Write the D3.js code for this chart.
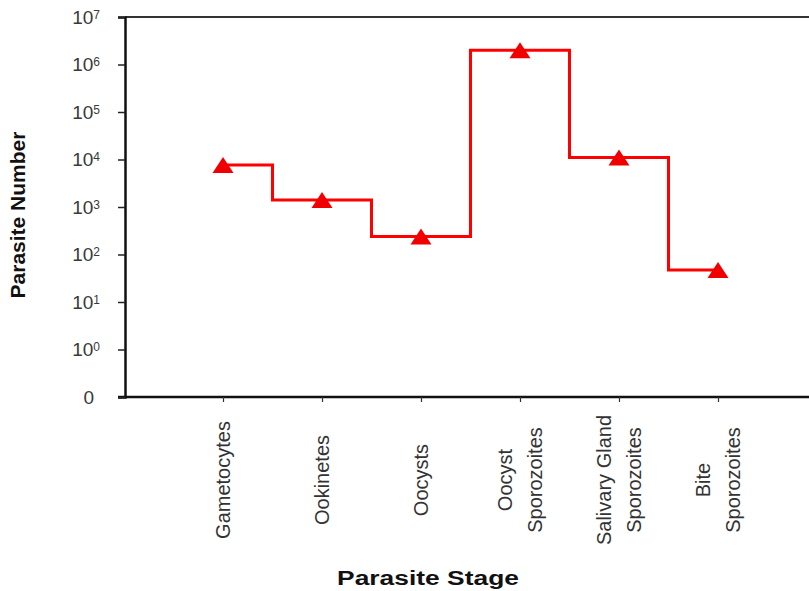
<!DOCTYPE html>
<html>
<head>
    <meta charset="utf-8">
    <style>
        body { margin: 0; background: #fff; }
        svg { font-family: 'Liberation Sans', Arial, sans-serif; }
    </style>
</head>
<body>
    <svg width="809" height="591"></svg>

<script src="https://d3js.org/d3.v7.min.js"></script>
<script>
    // data
    const stages = ["Gametocytes", "Ookinetes", "Oocysts", "Oocyst Sporozoites", "Salivary Gland Sporozoites", "Bite Sporozoites"];
    const stageLines = [["Gametocytes"], ["Ookinetes"], ["Oocysts"], ["Oocyst", "Sporozoites"], ["Salivary Gland", "Sporozoites"], ["Bite", "Sporozoites"]];
    const counts = [7700, 1400, 240, 2000000, 11000, 47];

    // y ticks: exponent position, base text, superscript
    const yTickPos = [-1, 0, 1, 2, 3, 4, 5, 6, 7];
    const yTickBase = ["0", "10", "10", "10", "10", "10", "10", "10", "10"];
    const yTickSup = ["", "0", "1", "2", "3", "4", "5", "6", "7"];

    const svg = d3.select("svg");

    const plotLeft = 125, plotRight = 809, plotTop = 17, plotBottom = 397;

    let x = d3.scalePoint()
        .domain(stages)
        .range([223, 718]);

    // log axis drawn as linear in the exponent, "0" sits one step below 10^0
    let y = d3.scaleLinear()
        .domain([-1, 7])
        .range([plotBottom, plotTop]);

    // frame
    svg.append("line")
        .attr("x1", plotLeft).attr("x2", plotRight)
        .attr("y1", plotTop).attr("y2", plotTop)
        .style("stroke", "#333").style("stroke-width", 2)

    svg.append("line")
        .attr("x1", 118).attr("x2", plotRight)
        .attr("y1", plotBottom).attr("y2", plotBottom)
        .style("stroke", "#111").style("stroke-width", 2.5)

    // y axis
    let yAxis = svg.append("g")
        .attr("transform", `translate(${plotLeft},0)`)
        .call(d3.axisLeft(y).tickValues(yTickPos).tickSize(7).tickFormat(() => ""))

    yAxis.select(".domain").style("stroke", "#111").style("stroke-width", 2.5)
    yAxis.selectAll(".tick line").style("stroke", "#222").style("stroke-width", 1.5)

    let yLabels = svg.append("g")
        .selectAll("text")
        .data(yTickPos)
        .join("text")
        .attr("x", (d, i) => i == 0 ? 94 : 100)
        .attr("y", d => y(d))
        .attr("dy", "0.36em")
        .attr("text-anchor", "end")
        .style("font-size", "19px")
        .style("fill", "#3a3a3a")

    yLabels.append("tspan")
        .text((d, i) => yTickBase[i])

    yLabels.append("tspan")
        .attr("dy", "-0.42em")
        .style("font-size", "12px")
        .text((d, i) => yTickSup[i])

    // x axis ticks
    let xAxis = svg.append("g")
        .attr("transform", `translate(0,${plotBottom})`)
        .call(d3.axisBottom(x).tickSize(5).tickFormat(() => ""))

    xAxis.select(".domain").remove()
    xAxis.selectAll(".tick line").style("stroke", "#333").style("stroke-width", 1.2)

    // rotated category labels
    let xLabels = svg.append("g")
        .selectAll("g")
        .data(stages)
        .join("g")
        .attr("transform", d => `translate(${x(d)},480) rotate(-90)`)

    xLabels.selectAll("text")
        .data((d, i) => stageLines[i].map((t, j) => ({ t: t, off: (j - (stageLines[i].length - 1) / 2) * 30 })))
        .join("text")
        .attr("x", 0)
        .attr("y", d => d.off)
        .attr("dy", "0.36em")
        .attr("text-anchor", "middle")
        .style("font-size", "20px")
        .style("fill", "#333")
        .text(d => d.t)

    // axis titles
    svg.append("text")
        .attr("transform", "translate(25,215) rotate(-90)")
        .attr("text-anchor", "middle")
        .style("font-size", "21px")
        .style("font-weight", "bold")
        .style("fill", "#111")
        .text("Parasite Number")

    svg.append("text")
        .attr("transform", "translate(428,585) scale(1.32,1)")
        .attr("text-anchor", "middle")
        .style("font-size", "20px")
        .style("font-weight", "bold")
        .style("fill", "#111")
        .text("Parasite Stage")

    // step line
    let line = d3.line()
        .x((d, i) => x(stages[i]))
        .y(d => y(Math.log10(d)))
        .curve(d3.curveStep)

    svg.append("path")
        .attr("d", line(counts))
        .style("fill", "none")
        .style("stroke", "#ff0000")
        .style("stroke-width", 3)

    // triangle markers
    svg.selectAll(".marker")
        .data(counts)
        .join("path")
        .attr("class", "marker")
        .attr("d", "M0,-8L10.5,8L-10.5,8Z")
        .attr("transform", (d, i) => `translate(${x(stages[i])},${y(Math.log10(d))})`)
        .style("fill", "#f00000")
</script>
</body>
</html>
